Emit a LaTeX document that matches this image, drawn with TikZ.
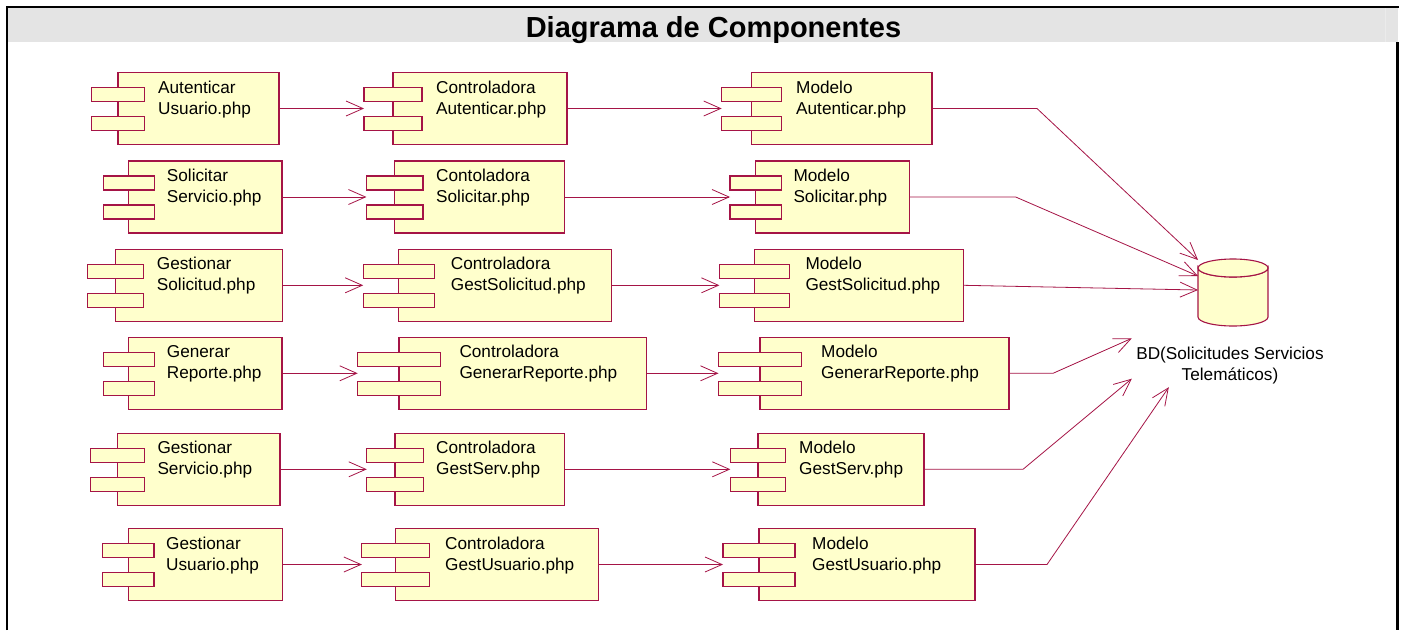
\documentclass[tikz,border=0pt]{standalone}
\usepackage{fontspec}
\setmainfont{Liberation Sans}
\usetikzlibrary{arrows.meta,calc}

\definecolor{lc}{RGB}{165,20,70}
\definecolor{cf}{RGB}{255,255,204}
\definecolor{hdr}{RGB}{228,228,228}

\tikzset{
  compbox/.style={draw=lc, fill=cf, line width=1.1pt, minimum height=72pt, inner sep=0pt, outer sep=0pt},
  tabbox/.style={draw=lc, fill=cf, line width=1.1pt},
  spanbox/.style={inner sep=0pt, outer sep=0pt, minimum height=72pt},
  lbl/.style={inner sep=0pt, font=\fontsize{17.2}{21}\selectfont},
  conn/.style={draw=lc, line width=0.8pt, -{Straight Barb[length=17pt,width=15pt]}},
}

% component: name, left, right, top, text x, line 1, line 2
\newcommand\compo[7]{%
  \pgfmathsetmacro\tabw{(#3-#2)/3}%
  \node[compbox, minimum width={(#3-#2)*1pt}, anchor=north west] (#1-box) at (#2,#4) {};
  \draw[tabbox] ({#2-\tabw/2},{#4+15}) rectangle ++(\tabw,14);
  \draw[tabbox] ({#2-\tabw/2},{#4+44}) rectangle ++(\tabw,14);
  \node[spanbox, minimum width={(#3-#2+\tabw/2)*1pt}, anchor=north west] (#1) at ({#2-\tabw/2},#4) {};
  \node[lbl, anchor=north west] (#1-txt) at (#5,{#4+5.6}) {\parbox[t]{250pt}{\strut #6\\\strut #7}};
}

\begin{document}
\begin{tikzpicture}[x=1pt, y=-1pt]
  \useasboundingbox (0,0) rectangle (1406,630);
  \fill[white] (0,0) rectangle (1406,630);

  % frame and title band
  \fill[hdr] (8,8) rectangle (1398,42);
  \draw[white!92!black, line width=1pt] (1385,8) -- (1385,42);
  \draw[black, line width=2.5pt] (7,630) -- (7,7) -- (1399,7);
  \draw[black, line width=3pt] (1397.5,42) -- (1397.5,630);
  \node[font=\bfseries\fontsize{29}{34}\selectfont, anchor=base, inner sep=0pt] (title) at (713.5,37.5) {Diagrama de Componentes};

  % row 1
  \compo{a1}{118}{279}{72.5}{158}{Autenticar}{Usuario.php}
  \compo{a2}{393}{567}{72.5}{436}{Controladora}{Autenticar.php}
  \compo{a3}{751.7}{932}{72.5}{796}{Modelo}{Autenticar.php}
  % row 2
  \compo{b1}{128.7}{282}{161}{166.7}{Solicitar}{Servicio.php}
  \compo{b2}{394.7}{564.3}{161}{436}{Contoladora}{Solicitar.php}
  \compo{b3}{755.7}{909.7}{161}{793.3}{Modelo}{Solicitar.php}
  % row 3
  \compo{c1}{115.3}{282.3}{249.3}{156.7}{Gestionar}{Solicitud.php}
  \compo{c2}{398.7}{611.7}{249.3}{450.7}{Controladora}{GestSolicitud.php}
  \compo{c3}{754.3}{963.7}{249.3}{805.3}{Modelo}{GestSolicitud.php}
  % row 4
  \compo{d1}{128.7}{282}{337.3}{166.7}{Generar}{Reporte.php}
  \compo{d2}{399}{646.7}{337.3}{459.3}{Controladora}{GenerarReporte.php}
  \compo{d3}{760}{1009}{337.3}{821}{Modelo}{GenerarReporte.php}
  % row 5
  \compo{e1}{117.3}{280}{433.3}{157.3}{Gestionar}{Servicio.php}
  \compo{e2}{395}{564.3}{433.3}{436}{Controladora}{GestServ.php}
  \compo{e3}{758}{924}{433.3}{799}{Modelo}{GestServ.php}
  % row 6
  \compo{f1}{128.3}{282.3}{528.5}{166}{Gestionar}{Usuario.php}
  \compo{f2}{395.7}{598.7}{528.5}{445}{Controladora}{GestUsuario.php}
  \compo{f3}{759}{975}{528.5}{812}{Modelo}{GestUsuario.php}

  % database
  \node[inner sep=0pt, outer sep=0pt, minimum width=70pt, minimum height=68pt, anchor=north west] (db) at (1198,259) {};
  \filldraw[draw=lc, fill=cf, line width=1.1pt]
    (1198,268) -- (1198,317) arc[start angle=180, end angle=0, x radius=35, y radius=9]
    -- (1268,268) arc[start angle=0, end angle=180, x radius=35, y radius=9] -- cycle;
  \draw[draw=lc, fill=cf, line width=1.1pt] (1233,268) ellipse [x radius=35, y radius=9];
  \node[lbl, anchor=north] (bdlbl) at (1230,344.8)
    {\parbox[t]{200pt}{\centering\strut BD(Solicitudes Servicios\\\strut Telemáticos)}};

  % dependencies
  \foreach \r in {a,b,c,d,e,f} {
    \draw[conn] (\r1-box.east) -- (\r2.west);
    \draw[conn] (\r2-box.east) -- (\r3.west);
  }
  \draw[conn] (a3-box.east) -- ++(105,0) -- ($(db.north west)+(0,1)$);
  \draw[conn] (b3-box.east) -- ++(106,0) -- ($(db.north west)+(0,17)$);
  \draw[conn] (c3-box.east) -- ($(db.north west)+(0,31)$);
  \draw[conn] (d3-box.east) -- ++(44,0) -- ($(bdlbl.north west)+(2,-6.5)$);
  \draw[conn] (e3-box.east) -- ++(99,0) -- ($(bdlbl.south west)+(2,-8.5)$);
  \draw[conn] (f3-box.east) -- ++(72,0) -- ($(bdlbl.south west)+(39,0)$);
\end{tikzpicture}
\end{document}
